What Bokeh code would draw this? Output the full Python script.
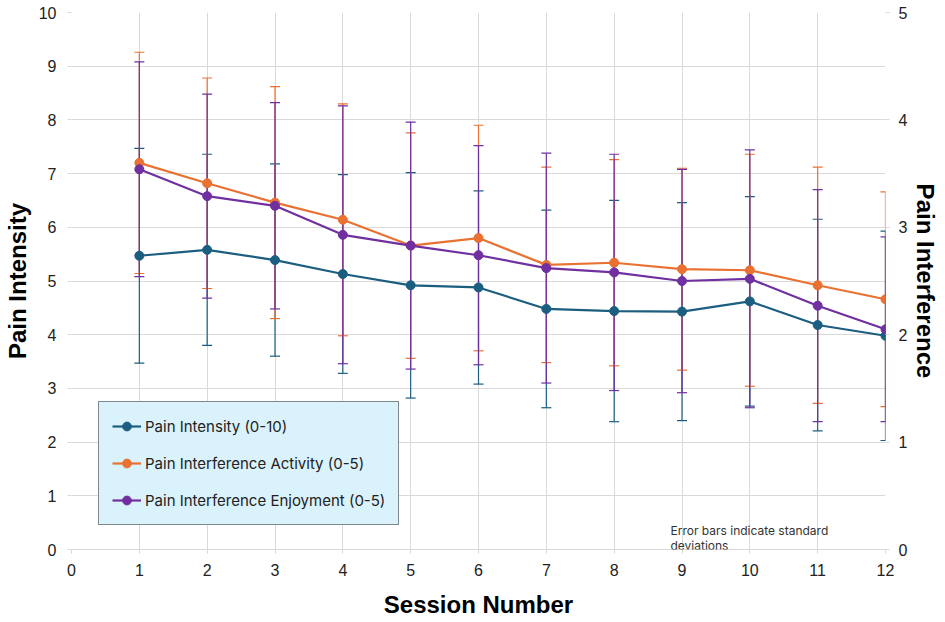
from bokeh.plotting import figure
from bokeh.models import (ColumnDataSource, Range1d, LinearAxis, FixedTicker,
                          Whisker, TeeHead, Legend, LegendItem, Label)
from bokeh.embed import file_html
from bokeh.resources import INLINE

sessions = [1, 2, 3, 4, 5, 6, 7, 8, 9, 10, 11, 12]
intensity = [5.47, 5.58, 5.39, 5.13, 4.92, 4.88, 4.48, 4.44, 4.43, 4.62, 4.18, 3.98]
intensity_sd = [2.00, 1.78, 1.79, 1.85, 2.10, 1.80, 1.84, 2.06, 2.03, 1.95, 1.97, 1.95]
activity = [3.60, 3.41, 3.23, 3.07, 2.83, 2.90, 2.65, 2.67, 2.61, 2.60, 2.46, 2.33]
activity_sd = [1.03, 0.98, 1.08, 1.08, 1.05, 1.05, 0.91, 0.96, 0.94, 1.08, 1.10, 1.00]
enjoyment = [3.54, 3.29, 3.20, 2.93, 2.83, 2.74, 2.62, 2.58, 2.50, 2.52, 2.27, 2.05]
enjoyment_sd = [1.00, 0.95, 0.96, 1.20, 1.15, 1.02, 1.07, 1.10, 1.04, 1.20, 1.08, 0.86]

x_ticks = list(range(0, 13))
left_ticks = list(range(0, 11))
right_ticks = list(range(0, 6))

C_INT = "#1B5E80"
C_ACT = "#E97132"
C_ENJ = "#7030A0"
GRID = "#D9D9D9"
FONT = "Liberation Sans"

p = figure(width=943, height=620, output_backend="svg", toolbar_location=None,
           x_range=Range1d(0, 12), y_range=Range1d(0, 10),
           min_border_left=70, min_border_right=58, min_border_top=12, min_border_bottom=70)
p.extra_y_ranges = {"right": Range1d(0, 5)}
p.outline_line_color = None
p.background_fill_color = "white"

p.xaxis.ticker = FixedTicker(ticks=x_ticks)
p.yaxis.ticker = FixedTicker(ticks=left_ticks)
p.xaxis.axis_label = "Session Number"
p.yaxis.axis_label = "Pain Intensity"

raxis = LinearAxis(y_range_name="right", ticker=FixedTicker(ticks=right_ticks),
                   axis_label="Pain Interference")
p.add_layout(raxis, "right")

for ax in [p.xaxis[0], p.yaxis[0], raxis]:
    ax.axis_line_color = None
    ax.major_tick_line_color = GRID
    ax.major_tick_in = 0
    ax.major_tick_out = 4
    ax.minor_tick_line_color = None
    ax.major_label_text_font = FONT
    ax.major_label_text_font_size = "16px"
    ax.major_label_text_color = "#222222"
    ax.axis_label_text_font = FONT
    ax.axis_label_text_font_style = "bold"
    ax.axis_label_text_font_size = "24px"
    ax.axis_label_text_color = "black"
p.xaxis.axis_line_color = GRID
p.xaxis.major_label_standoff = 10
p.xaxis.axis_label_standoff = 12
p.yaxis.major_label_standoff = 11
p.yaxis.axis_label_standoff = 5
raxis.major_label_standoff = 9
raxis.axis_label_standoff = 2

p.xgrid.ticker = FixedTicker(ticks=x_ticks)
p.ygrid.ticker = FixedTicker(ticks=left_ticks)
p.xgrid.grid_line_color = GRID
p.ygrid.grid_line_color = GRID

def series(vals, sds, color, yname):
    src = ColumnDataSource(dict(x=sessions, y=vals,
                                lo=[v - s for v, s in zip(vals, sds)],
                                hi=[v + s for v, s in zip(vals, sds)]))
    kw = {} if yname is None else {"y_range_name": yname}
    w = Whisker(source=src, base="x", lower="lo", upper="hi",
                line_color=color, line_width=1.2,
                lower_head=TeeHead(size=10, line_color=color, line_width=1.2),
                upper_head=TeeHead(size=10, line_color=color, line_width=1.2), **kw)
    p.add_layout(w)
    return src, kw

s_int, k_int = series(intensity, intensity_sd, C_INT, None)
s_act, k_act = series(activity, activity_sd, C_ACT, "right")
s_enj, k_enj = series(enjoyment, enjoyment_sd, C_ENJ, "right")

items = []
for src, kw, color, name in [(s_int, k_int, C_INT, "Pain Intensity (0-10)"),
                             (s_act, k_act, C_ACT, "Pain Interference Activity (0-5)"),
                             (s_enj, k_enj, C_ENJ, "Pain Interference Enjoyment (0-5)")]:
    r1 = p.line("x", "y", source=src, line_color=color, line_width=2.2, **kw)
    r2 = p.scatter("x", "y", source=src, size=9, fill_color=color, line_color=color, **kw)
    items.append(LegendItem(label=name, renderers=[r1, r2]))

legend = Legend(items=items, location=(27, 24), background_fill_color="#DAF2FB",
                background_fill_alpha=1.0, border_line_color="#222222", border_line_width=1.2,
                label_text_font="Inter", label_text_font_size="15px", label_text_color="#222222",
                glyph_width=29, glyph_height=22, spacing=15, padding=13, margin=0,
                label_standoff=4, label_height=22)
p.add_layout(legend, "center")

note_lines = ["Error bars indicate standard", "deviations"]
for i, t in enumerate(note_lines):
    p.add_layout(Label(x=8.83, y=0.35 - i * 0.28, text=t, text_font="Inter",
                       text_font_size="12px", text_color="#333333", text_baseline="middle"))

open("out.html", "w").write(file_html(p, INLINE))
